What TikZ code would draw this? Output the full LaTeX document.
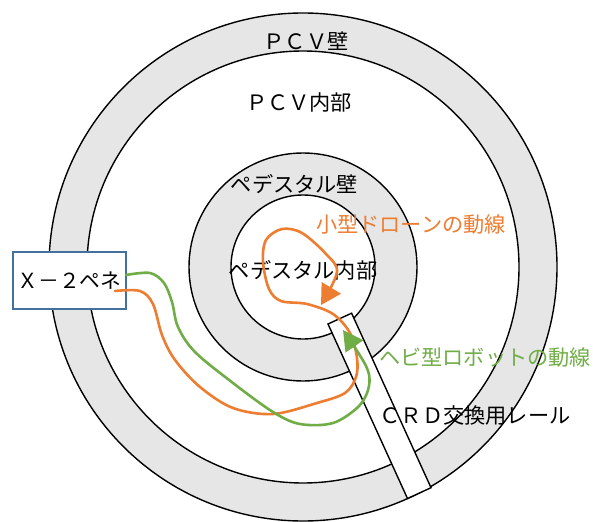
\documentclass[tikz,border=0pt]{standalone}
\usepackage{fontspec}
\setmainfont{Noto Sans CJK JP}
\usetikzlibrary{arrows.meta}
\definecolor{ringgray}{RGB}{230,230,230}
\definecolor{droneorange}{RGB}{237,125,49}
\definecolor{snakegreen}{RGB}{112,173,71}
\definecolor{boxblue}{RGB}{65,113,156}
\tikzset{
  ring/.style={draw=black,line width=1.4pt},
  lbl/.style={font=\fontsize{21.2}{24}\selectfont,inner sep=0pt},
  path line/.style={line width=2.6pt,line cap=round,line join=round},
}
\begin{document}
\begin{tikzpicture}[x=1pt,y=-1pt]
\useasboundingbox (0,0) rectangle (593,521);
\begin{scope}
\clip (0,0) rectangle (593,521);
\coordinate (c) at (303,267);
\fill[ringgray,ring] (c) circle[radius=254];
\fill[white,ring] (c) circle[radius=216];
\fill[ringgray,ring] (c) circle[radius=114];
\fill[white,ring] (c) circle[radius=72];
\end{scope}
% rail
\filldraw[fill=white,draw=black,line width=1.4pt] (328,324) -- (351.6,313.2) -- (431,487.7) -- (407.5,498.5) -- cycle;
% box
\node[draw=boxblue,fill=white,line width=1.3pt,minimum width=113pt,minimum height=57pt,inner sep=0pt,font=\fontsize{20.8}{24}\selectfont] (pene) at (69.5,280.5) {Ｘ－２ペネ};
% labels
\node[lbl] (pcvw) at (306,41) {ＰＣＶ壁};
\node[lbl] (pcvi) at (299,102) {ＰＣＶ内部};
\node[lbl] (pedw) at (294.5,184) {ペデスタル壁};
\node[lbl] (pedi) at (303,270) {ペデスタル内部};
\node[lbl,text=droneorange] (drone) at (411,224) {小型ドローンの動線};
\node[lbl,text=snakegreen] (snake) at (485,357) {ヘビ型ロボットの動線};
\node[lbl] (rail) at (475,415) {ＣＲＤ交換用レール};
% drone path
\draw[path line,droneorange,-{Triangle[length=20pt,width=22pt]}] plot[smooth,tension=0.55] coordinates {
 (115,291) (140,291) (153,304) (162,335) (175,360) (200,387) (233,408) (273,414)
 (317,403) (345,393) (356,377) (357,358) (350,333) (333,314) (307,304) (281,301)
 (269,289) (263,262) (266,240) (282,229) (302,233) (326,254) (337,272) (321,305)};
% snake path
\draw[path line,snakegreen,-{Triangle[length=20pt,width=21pt]}] plot[smooth,tension=0.55] coordinates {
 (126,275) (150,273) (164,283) (172,302) (178,327) (195,352) (233,383) (273,412)
 (300,424) (333,423) (359,406) (369,386) (366,366) (343,330)};
\end{tikzpicture}
\end{document}
